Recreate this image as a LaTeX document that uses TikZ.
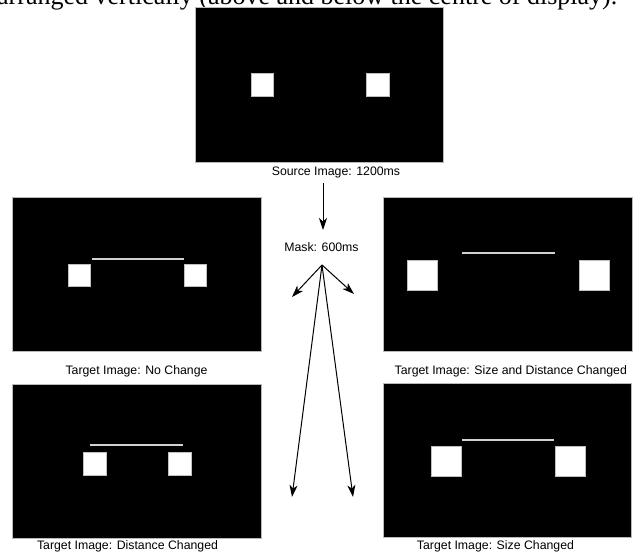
\documentclass[tikz,border=0pt]{standalone}
\usepackage{fontspec}
\setmainfont{Liberation Sans}
\newfontfamily\docserif{Liberation Serif}
\usetikzlibrary{arrows.meta}
\begin{document}
\begin{tikzpicture}[x=1pt,y=-1pt,
  screen/.style={draw=gray!55, line width=0.8pt, fill=black, inner sep=0,
                 minimum width=248.5pt, minimum height=154.5pt},
  sq/.style={draw=gray!50, line width=0.5pt, fill=white, inner sep=0, minimum size=#1},
  bar/.style={line width=2pt, draw=white!82!black},
  lbl/.style={font=\fontsize{12.3}{14}\selectfont, inner sep=0},
  arr/.style={-{Stealth[length=12pt,width=8pt,inset=3.5pt]}, line width=1pt}]
\useasboundingbox (0,0) rectangle (633,552);
\begin{scope}
\clip (0,0) rectangle (633,552);
\node[anchor=base west, inner sep=0, font=\docserif\fontsize{26}{30}\selectfont] (cap) at (-3,4)
  {arranged vertically (above and below the centre of display).};
\end{scope}
% screens
\node[screen] (src) at (319.5,85) {};
\node[screen] (nc)  at (137,274.5) {};
\node[screen] (sdc) at (508,274.5) {};
\node[screen] (dc)  at (137,461.5) {};
\node[screen] (sc)  at (507.5,460.5) {};
% squares
\node[sq=22.5pt] (srcL) at (262.3,84.5) {};
\node[sq=22.5pt] (srcR) at (377.8,84.5) {};
\node[sq=22pt] (ncL) at (79.3,275) {};
\node[sq=22pt] (ncR) at (194.8,275) {};
\node[sq=30pt] (sdcL) at (422.7,275) {};
\node[sq=30pt] (sdcR) at (594,275) {};
\node[sq=22.7pt] (dcL) at (94.7,463.7) {};
\node[sq=22.7pt] (dcR) at (179.7,463.7) {};
\node[sq=30pt] (scL) at (446,461.7) {};
\node[sq=30pt] (scR) at (570,461.7) {};
% bars
\draw[bar] (91.7,258.7) -- (183.7,258.7);
\draw[bar] (462.3,253) -- (555,253);
\draw[bar] (90.3,445.3) -- (182.7,445.3);
\draw[bar] (462.3,440) -- (554.3,440);
% labels
\node[lbl] (slabel) at (336,172.5) {Source Image: 1200ms};
\node[lbl] (mask) at (321.5,247.5) {Mask: 600ms};
\node[lbl] (ncl) at (136.5,371) {Target Image: No Change};
\node[lbl] (sdcl) at (510.8,371) {Target Image: Size and Distance Changed};
\node[lbl] (dcl) at (127.5,546) {Target Image: Distance Changed};
\node[lbl] (scl) at (495.5,546) {Target Image: Size Changed};
% arrows
\coordinate (vtop) at (323,183);
\coordinate (vtip) at (323,230);
\coordinate (fan) at (322,265);
\coordinate (tnc) at (292,297);
\coordinate (tsdc) at (354,294);
\coordinate (tdc) at (292,497);
\coordinate (tsc) at (353,497);
\draw[arr] (vtop) -- (vtip);
\draw[arr] (fan) -- (tnc);
\draw[arr] (fan) -- (tsdc);
\draw[arr] (fan) -- (tdc);
\draw[arr] (fan) -- (tsc);
\end{tikzpicture}
\end{document}
